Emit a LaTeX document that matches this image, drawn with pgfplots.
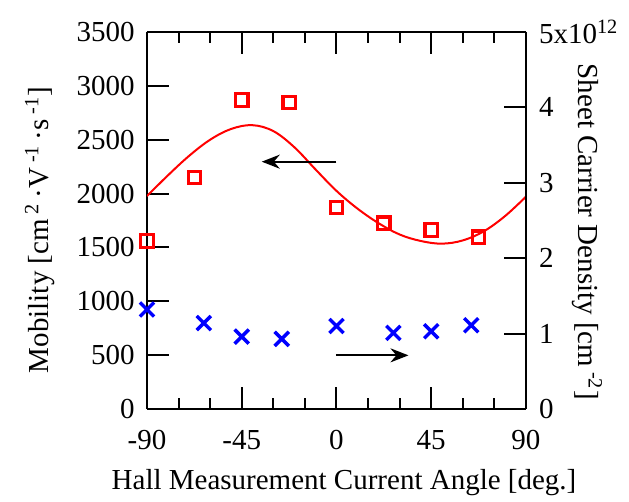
\documentclass[border=0pt]{standalone}
\usepackage{pgfplots}
\pgfplotsset{compat=1.18}
\usepackage{fontspec}
\setmainfont{Liberation Serif}
\usetikzlibrary{arrows.meta}
\newcommand{\fs}{\fontsize{14.5}{17}\selectfont}
\begin{document}
\begin{tikzpicture}[font=\fs]
\useasboundingbox (-73.5pt,-46.5pt) rectangle (241pt,204.5pt);
\pgfplotsset{
  every axis/.append style={
    scale only axis, width=189.5pt, height=188.5pt,
    xmin=-90, xmax=90,
    tick align=inside,
    major tick length=11pt, minor tick length=5.5pt,
    axis line style={line width=1pt},
    every tick/.style={line width=1pt, black},
    tick label style={font=\fs},
    label style={font=\fs},
    clip mode=individual,
  }
}
\begin{axis}[
  ymin=0, ymax=3500,
  axis y line*=left,
  xtick={-90,-45,0,45,90},
  xticklabels={-90,-45,0,45,90},
  minor xtick={-75,-60,-30,-15,15,30,60,75},
  xtick pos=both,
  ytick={0,500,1000,1500,2000,2500,3000,3500},
  yticklabels={0,500,1000,1500,2000,2500,3000,3500},
  xticklabel style={yshift=-7pt},
  yticklabel style={xshift=-2.7pt},
  xlabel={Hall Measurement Current Angle [deg.]},
  xlabel style={at={(axis description cs:0.52,-0.194)}, anchor=center},
  ylabel={Mobility [cm\,\textsuperscript{2}\,·V\,\textsuperscript{-1}\,·s\,\textsuperscript{-1}]},
  ylabel style={at={(axis description cs:-0.282,0.475)}, anchor=center},
]
\addplot[red, line width=1pt, smooth, tension=0.6, no markers] coordinates {
(-90,1977) (-80,2170) (-70,2350) (-60,2500) (-50,2600) (-40,2635)
(-30,2580) (-20,2430) (-10,2225) (0,2025) (10,1860) (20,1725)
(30,1620) (40,1560) (50,1535) (60,1565) (70,1650) (80,1790) (90,1971)
};
\addplot[red, only marks, mark=square, mark size=3.1pt, line width=1.6pt] coordinates {
(-90,1560) (-67.5,2151) (-45,2869) (-22.5,2847) (0,1869) (22.5,1724) (45,1662) (67.5,1594)
};
\draw[line width=1pt, -{Stealth[length=9pt, width=7pt]}] (axis cs:0,2296) -- (axis cs:-35.5,2296);
\draw[line width=1pt, -{Stealth[length=9pt, width=7pt]}] (axis cs:-0.3,498) -- (axis cs:34.2,498);
\end{axis}
\begin{axis}[
  ymin=0, ymax=5,
  axis y line*=right,
  axis x line=none,
  ytick={0,1,2,3,4,5},
  yticklabels={0,1,2,3,4,5x10\textsuperscript{12}},
  yticklabel style={xshift=3pt},
  ylabel={Sheet Carrier Density [cm\,\textsuperscript{-2}]},
  ylabel style={at={(axis description cs:1.161,0.47)}, anchor=center, rotate=180},
]
\addplot[blue, only marks, mark=x, mark size=5pt, line width=1.7pt] coordinates {
(-90,1.32) (-63,1.14) (-45,0.96) (-26,0.93) (0,1.10) (27,1.01) (45,1.03) (64,1.11)
};
\end{axis}
\end{tikzpicture}
\end{document}
